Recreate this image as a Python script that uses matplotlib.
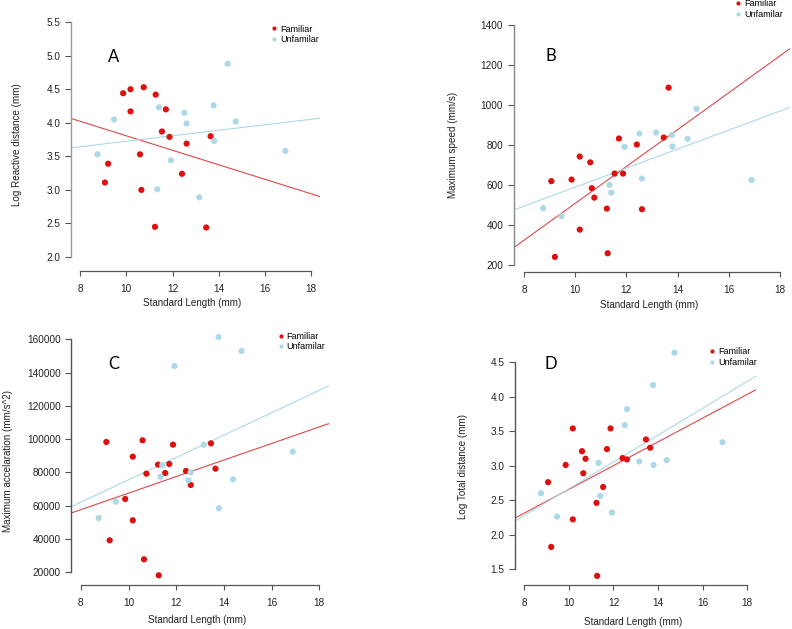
import matplotlib
matplotlib.use('Agg')
import matplotlib.pyplot as plt
from matplotlib.lines import Line2D

plt.rcParams['font.family'] = ['Liberation Sans', 'DejaVu Sans']

# standard length of each fish (mm)
fam_sl = [9.07, 9.21, 9.86, 10.18, 10.18, 10.59, 10.65, 10.75, 11.24, 11.27,
          11.54, 11.71, 11.87, 12.41, 12.61, 13.46, 13.65]
unf_sl = [8.75, 9.47, 11.34, 11.41, 11.93, 12.51, 12.61, 13.16, 13.78, 13.80,
          14.39, 14.74, 16.89]

# A: log reactive distance
fam_react = [3.11, 3.39, 4.44, 4.50, 4.17, 3.53, 3.00, 4.53, 2.45, 4.42,
             3.87, 4.20, 3.79, 3.24, 3.69, 2.44, 3.80]
unf_react = [3.53, 4.05, 3.01, 4.23, 3.44, 4.15, 3.99, 2.89, 4.26, 3.73,
             4.88, 4.02, 3.58]

# B: maximum speed
fam_speed = [620, 242, 628, 743, 378, 714, 585, 538, 483, 260,
             658, 833, 658, 803, 480, 838, 1087]
unf_speed = [485, 445, 601, 563, 791, 858, 633, 863, 851, 793,
             831, 981, 626]

# C: maximum acceleration
fam_acc = [98300, 39220, 64060, 89490, 51240, 99310, 27800, 79280, 84690, 18190,
           79680, 85090, 96700, 80880, 72470, 97500, 82280]
unf_acc = [52640, 62450, 77480, 84290, 143980, 75270, 80080, 96700, 161400, 58450,
           75870, 152990, 92500]

# D: log total distance
fam_dist = [2.76, 1.82, 3.01, 3.54, 2.22, 3.21, 2.89, 3.10, 2.46, 1.40,
            2.69, 3.24, 3.54, 3.11, 3.09, 3.38, 3.26]
unf_dist = [2.60, 2.26, 3.04, 2.56, 2.32, 3.59, 3.82, 3.06, 4.17, 3.01,
            3.08, 4.64, 3.34]

# fitted lines (intercept, slope)
fit_A = {'fam': (4.885, -0.1079), 'unf': (3.316, 0.0409)}
fit_B = {'fam': (-412.0, 92.1), 'unf': (115.9, 47.45)}
fit_C = {'fam': (17870, 4970), 'unf': (8424, 6714)}
fit_D = {'fam': (0.931, 0.1724), 'unf': (0.717, 0.1947)}

RED = '#dd1010'
BLUE = '#add8e6'
W, H = 792, 629

fig = plt.figure(figsize=(W / 100, H / 100), dpi=100)


def panel(left, right, top, bottom, ylim, yticks, fam_y, unf_y, fit, letter,
          letter_xy, ylabel, ylabel_x, xlabel_y, legend_xy, ytick_fmt, ycol):
    ax = fig.add_axes([left / W, 1 - bottom / H, (right - left) / W, (bottom - top) / H])
    ax.set_xlim(7.6, 18.4)
    ax.set_ylim(*ylim)
    ax.patch.set_alpha(0)
    for s in ['top', 'right']:
        ax.spines[s].set_visible(False)
    ax.spines['left'].set_bounds(yticks[0], yticks[-1])
    ax.spines['bottom'].set_bounds(8, 18)
    ax.spines['left'].set_color(ycol)
    ax.spines['bottom'].set_color('#555555')
    ax.spines['left'].set_linewidth(1.0)
    ax.spines['bottom'].set_linewidth(0.9)
    ax.set_xticks([8, 10, 12, 14, 16, 18])
    ax.set_yticks(yticks)
    ax.set_yticklabels([ytick_fmt(v) for v in yticks])
    ax.tick_params(axis='x', direction='out', length=3.6, width=0.8, color='#555555',
                   labelsize=7.2, pad=5.4, labelcolor='#222222')
    ax.tick_params(axis='y', direction='out', length=4.2, width=0.8, color='#555555',
                   labelsize=7.2, pad=3.4, labelcolor='#222222')

    xs = [7.6, 18.4]
    ax.plot(xs, [fit['fam'][0] + fit['fam'][1] * x for x in xs], color='#e04848', lw=0.8)
    ax.plot(xs, [fit['unf'][0] + fit['unf'][1] * x for x in xs], color=BLUE, lw=0.8)
    ax.scatter(fam_sl, fam_y, s=20, color=RED, edgecolors='none', zorder=3, clip_on=False)
    ax.scatter(unf_sl, unf_y, s=20, color=BLUE, edgecolors='none', zorder=3, clip_on=False)

    fig.text(letter_xy[0] / W, 1 - letter_xy[1] / H, letter, fontsize=12,
             family=['Lato', 'DejaVu Sans'], ha='center', va='center')
    fig.text(ylabel_x / W, 1 - ((top + bottom) / 2 + 4) / H, ylabel, rotation=90,
             fontsize=7.1, ha='center', va='center', color='#222222')
    fig.text(((left + right) / 2 - 3) / W, 1 - xlabel_y / H, 'Standard Length (mm)',
             fontsize=7.1, ha='center', va='center', color='#222222')

    handles = [Line2D([], [], ls='none', marker='o', ms=3.0, color=RED, mec='none'),
               Line2D([], [], ls='none', marker='o', ms=3.0, color=BLUE, mec='none')]
    fig.legend(handles, ['Familiar', 'Unfamilar'], loc='upper left',
               bbox_to_anchor=(legend_xy[0] / W, 1 - legend_xy[1] / H),
               frameon=False, fontsize=6.5, handlelength=0.6, handletextpad=0.35,
               labelspacing=0.15, borderpad=0, borderaxespad=0)
    return ax


def fmt1(v):
    return f'{v:.1f}'


def fmt0(v):
    return f'{v:.0f}'


panel(71, 320.2, 10, 271.3, (1.787, 5.681), [2.0, 2.5, 3.0, 3.5, 4.0, 4.5, 5.0, 5.5],
      fam_react, unf_react, fit_A, 'A', (114, 57), 'Log Reactive distance (mm)', 17, 303,
      (271.5, 24.5), fmt1, '#999999')
panel(513.7, 790.2, 10, 272.3, (165.1, 1474.6), [200, 400, 600, 800, 1000, 1200, 1400],
      fam_speed, unf_speed, fit_B, 'B', (551, 56), 'Maximum speed (mm/s)', 453, 305,
      (735.5, -0.5), fmt0, '#888888')
panel(71.3, 328.7, 328, 585, (12369, 166800), [20000, 40000, 60000, 80000, 100000, 120000, 140000, 160000],
      fam_acc, unf_acc, fit_C, 'C', (114, 364), 'Maximum accelaration (mm/s^2)', 8, 620,
      (278, 332), fmt0, '#555555')
panel(515.3, 756.1, 340, 585.3, (1.263, 4.824), [1.5, 2.0, 2.5, 3.0, 3.5, 4.0, 4.5],
      fam_dist, unf_dist, fit_D, 'D', (551, 364), 'Log Total distance (mm)', 463, 622,
      (709.5, 347.5), fmt1, '#555555')

fig.savefig('out.png', dpi=100)
